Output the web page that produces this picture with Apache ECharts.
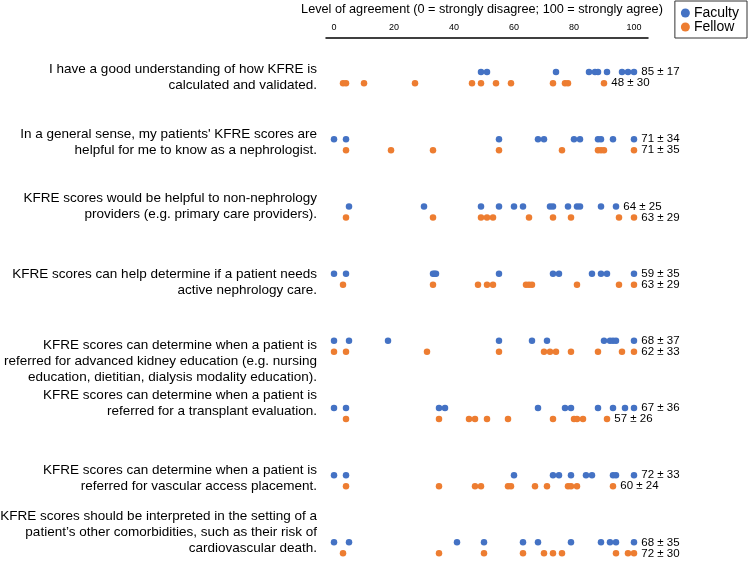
<!DOCTYPE html>
<html>
<head>
<meta charset="utf-8">
<script src="https://cdn.jsdelivr.net/npm/echarts@6/dist/echarts.min.js"></script>
<style>html,body{margin:0;padding:0;background:#fff}#c{width:748px;height:573px}</style>
</head>
<body>
<div id="c"></div>
<script>
const statements = [
  "I have a good understanding of how KFRE is\ncalculated and validated.",
  "In a general sense, my patients' KFRE scores are\nhelpful for me to know as a nephrologist.",
  "KFRE scores would be helpful to non-nephrology\nproviders (e.g. primary care providers).",
  "KFRE scores can help determine if a patient needs\nactive nephrology care.",
  "KFRE scores can determine when a patient is\nreferred for advanced kidney education (e.g. nursing\neducation, dietitian, dialysis modality education).",
  "KFRE scores can determine when a patient is\nreferred for a transplant evaluation.",
  "KFRE scores can determine when a patient is\nreferred for vascular access placement.",
  "KFRE scores should be interpreted in the setting of a\npatient’s other comorbidities, such as their risk of\ncardiovascular death."
];
const facultyValues = [
  [49, 51, 74, 85, 87, 88, 91, 96, 98, 100],
  [0, 4, 55, 68, 70, 80, 82, 88, 89, 93, 100],
  [5, 30, 49, 55, 60, 63, 72, 73, 78, 81, 82, 89, 94],
  [0, 4, 33, 33.5, 34, 55, 73, 75, 86, 89, 91, 100],
  [0, 5, 18, 55, 66, 71, 90, 92, 93, 94, 100],
  [0, 4, 35, 37, 68, 77, 79, 88, 93, 97, 100],
  [0, 4, 60, 73, 75, 79, 84, 86, 93, 94, 100],
  [0, 5, 41, 50, 63, 68, 79, 89, 92, 94, 100]
];
const fellowValues = [
  [3, 4, 10, 27, 46, 49, 54, 59, 73, 77, 78, 90],
  [4, 19, 33, 55, 76, 88, 89, 90, 100],
  [4, 33, 49, 51, 53, 65, 73, 79, 95, 100],
  [3, 33, 48, 51, 53, 64, 65, 66, 81, 95, 100],
  [0, 4, 31, 55, 70, 72, 74, 79, 88, 96, 100],
  [4, 35, 45, 47, 51, 58, 73, 80, 81, 83, 91],
  [4, 35, 47, 49, 58, 59, 67, 71, 78, 79, 81, 93],
  [3, 35, 50, 63, 70, 73, 76, 94, 98, 100]
];
const facultyStats = ["85 ± 17", "71 ± 34", "64 ± 25", "59 ± 35", "68 ± 37", "67 ± 36", "72 ± 33", "68 ± 35"];
const fellowStats  = ["48 ± 30", "71 ± 35", "63 ± 29", "63 ± 29", "62 ± 33", "57 ± 26", "60 ± 24", "72 ± 30"];
const xTicks = [0, 20, 40, 60, 80, 100];

// layout (not data)
const labelCenters = [0.0, 0.96, 1.92, 3.05, 4.22, 4.85, 5.96, 6.77];
const rowOffset = 0.082;
const FONT = "'Liberation Sans', Arial, sans-serif";

function buildSeries(values, stats, offset) {
  const out = [];
  values.forEach((row, i) => {
    const mx = Math.max(...row);
    let labelled = false;
    row.forEach(v => {
      const item = { value: [v, i + offset] };
      if (!labelled && v === mx) {
        labelled = true;
        item.label = { show: true, formatter: stats[i] };
      }
      out.push(item);
    });
  });
  return out;
}

const chart = echarts.init(document.getElementById('c'), null, { renderer: 'canvas' });
chart.setOption({
  backgroundColor: '#fff',
  animation: false,
  textStyle: { fontFamily: FONT },
  legend: {
    orient: 'vertical',
    right: 1, top: 1,
    padding: [5, 8, 4, 6],
    itemGap: 0,
    itemWidth: 9, itemHeight: 9,
    icon: 'circle',
    borderColor: '#333', borderWidth: 1,
    textStyle: { fontSize: 14, color: '#000', fontFamily: FONT, padding: [0, 0, 0, -1] },
    data: ['Faculty', 'Fellow']
  },
  grid: { left: 326, right: 100, top: 38, bottom: 5, containLabel: false, outerBoundsMode: 'none' },
  xAxis: {
    type: 'value', position: 'top',
    min: -2.67, max: 104.67,
    name: 'Level of agreement (0 = strongly disagree; 100 = strongly agree)',
    nameLocation: 'middle', nameGap: 22,
    nameTextStyle: { fontSize: 12.7, color: '#000', fontFamily: FONT, padding: [0, 10, 0, 0] },
    axisLine: { show: true, onZero: false, lineStyle: { color: '#000', width: 1.5 } },
    axisTick: { show: false },
    splitLine: { show: false },
    axisLabel: { customValues: xTicks, fontSize: 9, color: '#000', margin: 6, fontFamily: FONT }
  },
  yAxis: {
    type: 'value', inverse: true,
    min: -0.59, max: 7.3,
    axisLine: { show: false }, axisTick: { show: false }, splitLine: { show: false },
    axisLabel: {
      customValues: labelCenters,
      margin: 9, fontSize: 13.5, lineHeight: 16, color: '#000', align: 'right', fontFamily: FONT,
      formatter: v => {
        const idx = labelCenters.findIndex(c => Math.abs(c - v) < 1e-6);
        return idx >= 0 ? statements[idx] : '';
      }
    }
  },
  series: [
    {
      name: 'Faculty', type: 'scatter', symbol: 'circle', symbolSize: 6.5,
      itemStyle: { color: '#4472C4', opacity: 1 },
      label: { show: false, position: 'right', distance: 4, fontSize: 11.5, color: '#000', fontFamily: FONT },
      data: buildSeries(facultyValues, facultyStats, -rowOffset)
    },
    {
      name: 'Fellow', type: 'scatter', symbol: 'circle', symbolSize: 6.5,
      itemStyle: { color: '#ED7D31', opacity: 1 },
      label: { show: false, position: 'right', distance: 4, fontSize: 11.5, color: '#000', fontFamily: FONT },
      data: buildSeries(fellowValues, fellowStats, rowOffset)
    }
  ]
});
</script>
</body>
</html>
